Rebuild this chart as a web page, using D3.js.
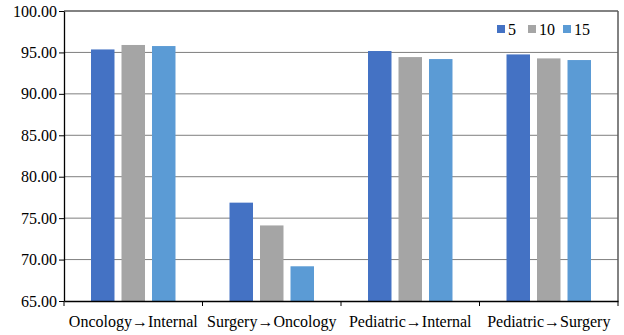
<!DOCTYPE html>
<html><head><meta charset="utf-8">
<script src="https://cdn.jsdelivr.net/npm/d3@7"></script>
<style>body{margin:0;background:#fff}svg{display:block}</style>
</head><body>
<svg id="c" width="624" height="335"></svg>
<script>
const categories = ["Oncology→Internal", "Surgery→Oncology", "Pediatric→Internal", "Pediatric→Surgery"];
const seriesNames = ["5", "10", "15"];
const s5  = [95.36, 76.87, 95.17, 94.76];
const s10 = [95.90, 74.12, 94.44, 94.28];
const s15 = [95.77, 69.19, 94.20, 94.08];
const yTicks = [65, 70, 75, 80, 85, 90, 95, 100];
const colors = ["#4472C4", "#A5A5A5", "#5B9BD5"];

const series = [s5, s10, s15];
const svg = d3.select("#c");
const L = 64, R = 618, T = 11, B = 301;
const font = '"Liberation Serif", "Times New Roman", serif';

const x = d3.scaleBand().domain(categories).range([L, R]).paddingInner(0).paddingOuter(0);
const bw = x.bandwidth();
const xi = d3.scaleBand().domain(seriesNames).range([bw*0.195, bw*0.805]).paddingInner(0.23).paddingOuter(0);
const y = d3.scaleLinear().domain([65, 100]).range([B, T]);

// gridlines
svg.append("g").selectAll("line").data(yTicks.filter(t => t > 65 && t < 100)).join("line")
  .attr("x1", L).attr("x2", R).attr("y1", d => y(d)).attr("y2", d => y(d))
  .attr("stroke", "#7f7f7f").attr("stroke-width", 1);

// plot border top/right
svg.append("line").attr("x1", L).attr("x2", R).attr("y1", y(100)).attr("y2", y(100)).attr("stroke", "#595959").attr("stroke-width", 1.5);
svg.append("line").attr("x1", R).attr("x2", R).attr("y1", T).attr("y2", B).attr("stroke", "#595959").attr("stroke-width", 1.5);

// bars
categories.forEach((c, ci) => {
  const g = svg.append("g").attr("transform", `translate(${x(c)},0)`);
  g.selectAll("rect").data(seriesNames.map((n, si) => ({n, v: series[si][ci], si}))).join("rect")
    .attr("x", d => xi(d.n)).attr("width", xi.bandwidth())
    .attr("y", d => y(d.v)).attr("height", d => y(65) - y(d.v))
    .attr("fill", d => colors[d.si]);
});

// y axis
const ya = svg.append("g").attr("transform", `translate(${L},0)`)
  .call(d3.axisLeft(y).tickValues(yTicks).tickFormat(d3.format(".2f")).tickSize(5).tickSizeOuter(0));
ya.select(".domain").attr("stroke", "#000").attr("stroke-width", 1.3);
ya.selectAll(".tick line").attr("stroke", "#000");
ya.selectAll("text").style("font-family", font).style("font-size", "16px").attr("fill", "#000").attr("x", -7);

// x axis
const xa = svg.append("g").attr("transform", `translate(0,${B})`)
  .call(d3.axisBottom(x).tickSize(0).tickSizeOuter(0));
xa.select(".domain").attr("stroke", "#000").attr("stroke-width", 1.3);
xa.selectAll("text").style("font-family", font).style("font-size", "16px").attr("fill", "#000").attr("dy", 0).attr("y", 26);
svg.append("g").selectAll("line").data(categories.map(c => x(c)).concat([R])).join("line")
  .attr("x1", d => d).attr("x2", d => d).attr("y1", B).attr("y2", B + 5).attr("stroke", "#000");

// legend
const legX = [497, 528, 563];
const lg = svg.append("g");
seriesNames.forEach((n, i) => {
  lg.append("rect").attr("x", legX[i]).attr("y", 25).attr("width", 8).attr("height", 8).attr("fill", colors[i]);
  lg.append("text").attr("x", legX[i] + 11).attr("y", 35).text(n)
    .style("font-family", font).style("font-size", "16px").attr("fill", "#000");
});
</script>
</body></html>
